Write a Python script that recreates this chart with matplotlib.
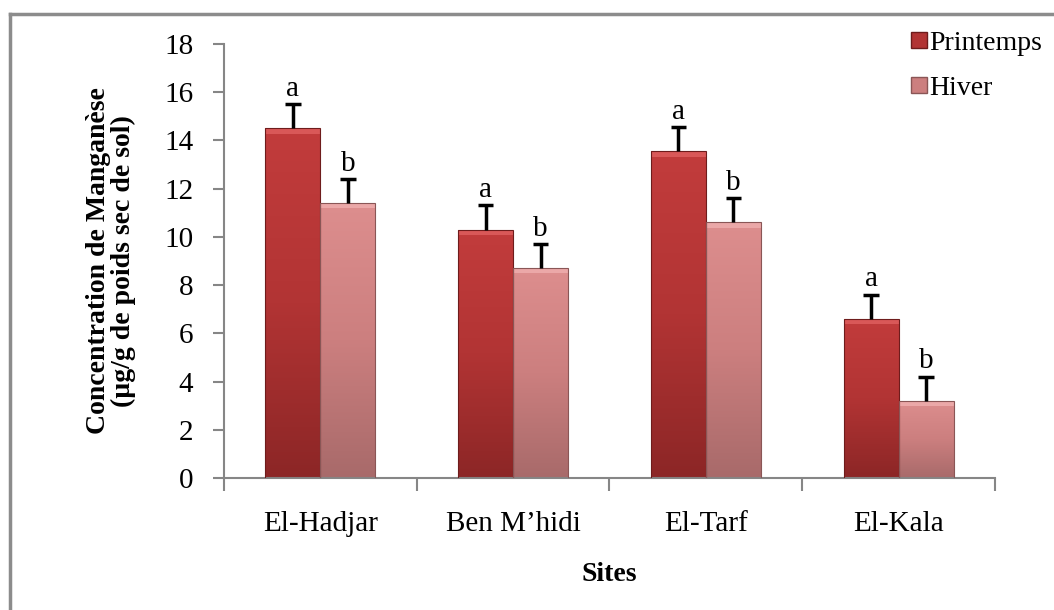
import numpy as np
import matplotlib.pyplot as plt
from matplotlib.lines import Line2D
from matplotlib.patches import Rectangle
from matplotlib.colors import LinearSegmentedColormap

plt.rcParams['font.family'] = ['Liberation Serif', 'DejaVu Serif']

sites = ['El-Hadjar', 'Ben M\u2019hidi', 'El-Tarf', 'El-Kala']
printemps = [14.5, 10.3, 13.55, 6.6]
hiver = [11.4, 8.7, 10.6, 3.2]
err_printemps = [1.0, 1.0, 1.0, 1.0]
err_hiver = [1.0, 1.0, 1.0, 1.0]
letters_printemps = ['a', 'a', 'a', 'a']
letters_hiver = ['b', 'b', 'b', 'b']

fig = plt.figure(figsize=(10.54, 6.10), dpi=100)
ax = fig.add_axes([0.2125, 0.2164, 0.7315, 0.7116])

x = np.arange(len(sites))
w = 0.285
fs = 21

# gradient fills for the bevelled bars
cmap_p = LinearSegmentedColormap.from_list('p', ['#8c2626', '#b23434', '#c23c3c'])
cmap_h = LinearSegmentedColormap.from_list('h', ['#a86a6a', '#cc7f7f', '#dd8e8e'])


def draw_bars(xs, vals, cmap, edge, top):
    bars = ax.bar(xs, vals, w, color='none', edgecolor=edge, linewidth=0.8, zorder=3)
    grad = np.linspace(0, 1, 256).reshape(-1, 1)
    for b in bars:
        x0, y0 = b.get_x(), b.get_y()
        bw, bh = b.get_width(), b.get_height()
        im = ax.imshow(grad, cmap=cmap, aspect='auto', origin='lower',
                       extent=[x0, x0 + bw, y0, y0 + bh], zorder=2)
        im.set_clip_path(b)
        # light bevel strip at the top
        ax.add_patch(Rectangle((x0, y0 + bh - 0.22), bw, 0.22, color=top,
                               alpha=0.8, zorder=2.5, linewidth=0))
    return bars


def draw_errors(xs, vals, errs, letters):
    tops = np.array(vals) + np.array(errs)
    ax.vlines(xs, vals, tops, color='black', lw=2.5, zorder=4)
    ax.hlines(tops, xs - 0.04, xs + 0.04, color='black', lw=2.5, zorder=4)
    for xi, t, lab in zip(xs, tops, letters):
        ax.text(xi, t + 0.1, lab, ha='center', va='bottom', fontsize=fs)


draw_bars(x - w / 2, printemps, cmap_p, '#6e1c1c', '#e06060')
draw_bars(x + w / 2, hiver, cmap_h, '#8a5656', '#f0b0b0')
draw_errors(x - w / 2, printemps, err_printemps, letters_printemps)
draw_errors(x + w / 2, hiver, err_hiver, letters_hiver)

ax.set_xlim(-0.5, 3.5)
ax.set_ylim(0, 18)
ax.set_yticks(np.arange(0, 19, 2))
ax.set_xticks(x)
ax.set_xticklabels(sites, fontsize=fs)
ax.set_xticks(np.arange(-0.5, 4, 1), minor=True)
ax.tick_params(axis='x', which='major', length=0, pad=24)
ax.tick_params(axis='x', which='minor', length=9, width=1.5, color='#868686', direction='out')
ax.tick_params(axis='y', length=8, width=1.5, color='#868686', labelsize=fs, pad=14)

for s in ['top', 'right']:
    ax.spines[s].set_visible(False)
for s in ['left', 'bottom']:
    ax.spines[s].set_color('#868686')
    ax.spines[s].set_linewidth(1.5)

ax.set_xlabel('Sites', fontsize=20, fontweight='bold', labelpad=18)
ax.set_ylabel('Concentration de Mangan\u00e8se\n(\u00b5g/g de poids sec de sol)',
              fontsize=20, fontweight='bold', labelpad=20, linespacing=1.0)

# legend entries
handles = [Line2D([], [], marker='s', linestyle='none', markersize=12,
                  markerfacecolor='#b23434', markeredgecolor='#6e1c1c', label='Printemps'),
           Line2D([], [], marker='s', linestyle='none', markersize=12,
                  markerfacecolor='#cc7f7f', markeredgecolor='#8a5656', label='Hiver')]
fig.legend(handles=handles, loc='upper left', bbox_to_anchor=(0.853, 0.968),
           frameon=False, fontsize=20, handlelength=0.6, handletextpad=0.1,
           labelspacing=0.7, borderaxespad=0)

# outer frame
fig.add_artist(Line2D([0.0095, 0.0095], [0, 0.977], color='#8c8c8c', lw=2.5,
                      transform=fig.transFigure))
fig.add_artist(Line2D([0.0095, 1.0], [0.977, 0.977], color='#8c8c8c', lw=2.5,
                      transform=fig.transFigure))

fig.savefig('out.png', dpi=100)
